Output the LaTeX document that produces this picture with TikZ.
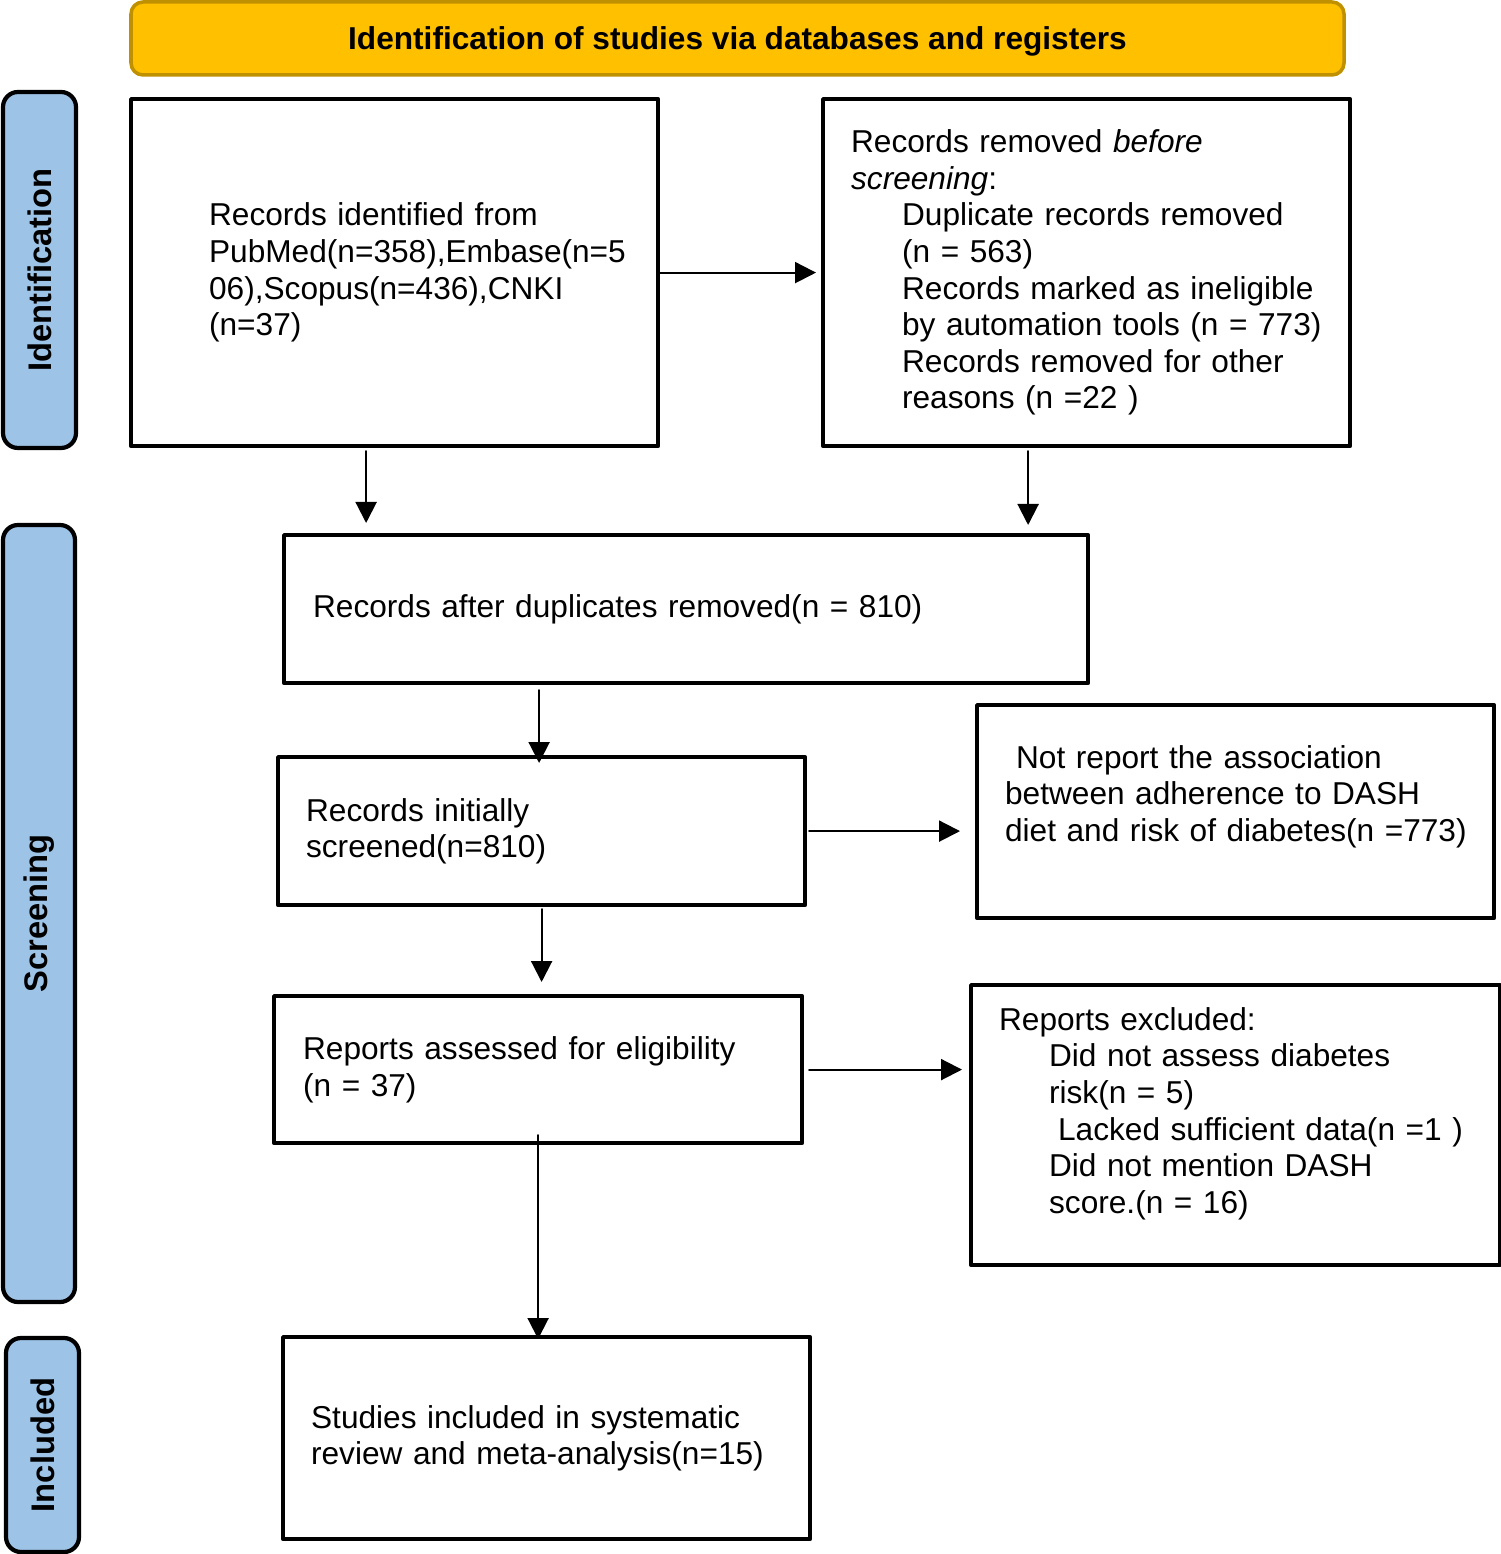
\documentclass[tikz,border=0pt]{standalone}
\usepackage{fontspec}
\setmainfont{Liberation Sans}
\usetikzlibrary{arrows.meta}
\definecolor{bannergold}{HTML}{FFC000}
\definecolor{bannerrim}{HTML}{BF9000}
\definecolor{phaseblue}{HTML}{9DC3E6}
\begin{document}
\begin{tikzpicture}[line join=round, line cap=round,
	font=\fontsize{9pt}{10.4pt}\selectfont,
	box/.style={draw, line width=1.2pt, inner xsep=0pt, inner ysep=2pt, align=left, anchor=north west},
	phase/.style={draw, line width=1.2pt, fill=phaseblue, rounded corners=0.15cm, rotate=90, inner sep=0pt, font=\bfseries\fontsize{9.3pt}{10pt}\selectfont},
	dn/.style={line width=0.6pt, -{Triangle[length=2.1mm,width=2.1mm]}},
	rt/.style={line width=0.6pt, -{Triangle[length=2.1mm,width=2.1mm]}}]
\useasboundingbox (0,0) rectangle (15,-15.54);
% banner and phase bars
\node[draw=bannerrim, fill=bannergold, line width=1pt, rounded corners=0.12cm, minimum width=12.13cm, minimum height=0.73cm, text depth=0pt, font=\bfseries\fontsize{9pt}{10pt}\selectfont] (head) at (7.375,-0.385) {Identification of studies via databases and registers};
\node[phase, minimum width=3.56cm, minimum height=0.73cm] (idph) at (0.395,-2.70) {Identification};
\node[phase, minimum width=7.77cm, minimum height=0.72cm] (scph) at (0.39,-9.135) {Screening};
\node[phase, minimum width=2.14cm, minimum height=0.73cm] (inph) at (0.425,-14.45) {Included};
% boxes
\node[box, text width=5.27cm, minimum height=3.47cm] (found) at (1.29,-0.97) {\leftskip=0.78cm Records identified from\\PubMed(n=358),Embase(n=5\\06),Scopus(n=436),CNKI\\(n=37)\par};
\node[box, text width=5.27cm, minimum height=3.47cm] (removed) at (8.21,-0.97) {\leftskip=0.28cm Records removed \textit{before}\\\textit{screening}:\\\hspace*{0.51cm}Duplicate records removed\\\hspace*{0.51cm}(n = 563)\\\hspace*{0.51cm}Records marked as ineligible\\\hspace*{0.51cm}by automation tools (n = 773)\\\hspace*{0.51cm}Records removed for other\\\hspace*{0.51cm}reasons (n =22 )\par};
\node[box, text width=8.04cm, minimum height=1.48cm] (dedup) at (2.82,-5.33) {\leftskip=0.29cm Records after duplicates removed(n = 810)\par};
\node[box, text width=5.27cm, minimum height=1.48cm] (screened) at (2.76,-7.55) {\leftskip=0.28cm Records initially\\screened(n=810)\par};
\node[box, text width=5.17cm, minimum height=2.13cm] (notrep) at (9.75,-7.03) {\leftskip=0.28cm \hspace*{0.11cm}Not report the association\\between adherence to DASH\\diet and risk of diabetes(n =773)\\\mbox{}\par};
\node[box, text width=5.28cm, minimum height=1.47cm] (assessed) at (2.72,-9.94) {\leftskip=0.29cm Reports assessed for eligibility\\(n = 37)\par};
\node[box, text width=5.29cm, minimum height=2.80cm] (excluded) at (9.69,-9.83) {\leftskip=0.28cm Reports excluded:\\\hspace*{0.5cm}Did not assess diabetes\\\hspace*{0.5cm}risk(n = 5)\\\hspace*{0.59cm}Lacked sufficient data(n =1 )\\\hspace*{0.5cm}Did not mention DASH\\\hspace*{0.5cm}score.(n = 16)\\[-2pt]\mbox{}\par};
\node[box, text width=5.27cm, minimum height=2.02cm] (included) at (2.81,-13.35) {\leftskip=0.28cm Studies included in systematic\\review and meta-analysis(n=15)\par};
% arrows
\coordinate (a2) at ([xshift=-0.285cm,yshift=-0.03cm]found.south);
\coordinate (a3) at ([xshift=-0.585cm,yshift=-0.03cm]removed.south);
\coordinate (a4) at ([xshift=-1.47cm,yshift=-0.05cm]dedup.south);
\coordinate (a8) at ([yshift=0.10cm]assessed.south);
\draw[rt, shorten >=0.05cm] (found.east) -- (removed.west);
\draw[dn, shorten >=0.10cm] (a2) -- (a2 |- dedup.north);
\draw[dn, shorten >=0.08cm] (a3) -- (a3 |- dedup.north);
\draw[dn, shorten >=-0.08cm] (a4) -- (a4 |- screened.north);
\draw[rt, shorten <=0.02cm, shorten >=0.15cm] (screened.east) -- (screened.east -| notrep.west);
\draw[dn, shorten <=0.02cm, shorten >=0.12cm] (screened.south) -- (screened.south |- assessed.north);
\draw[rt, shorten <=0.05cm, shorten >=0.07cm] (assessed.east) -- (assessed.east -| excluded.west);
\draw[dn, shorten >=-0.04cm] (a8) -- (a8 |- included.north);
\end{tikzpicture}
\end{document}
